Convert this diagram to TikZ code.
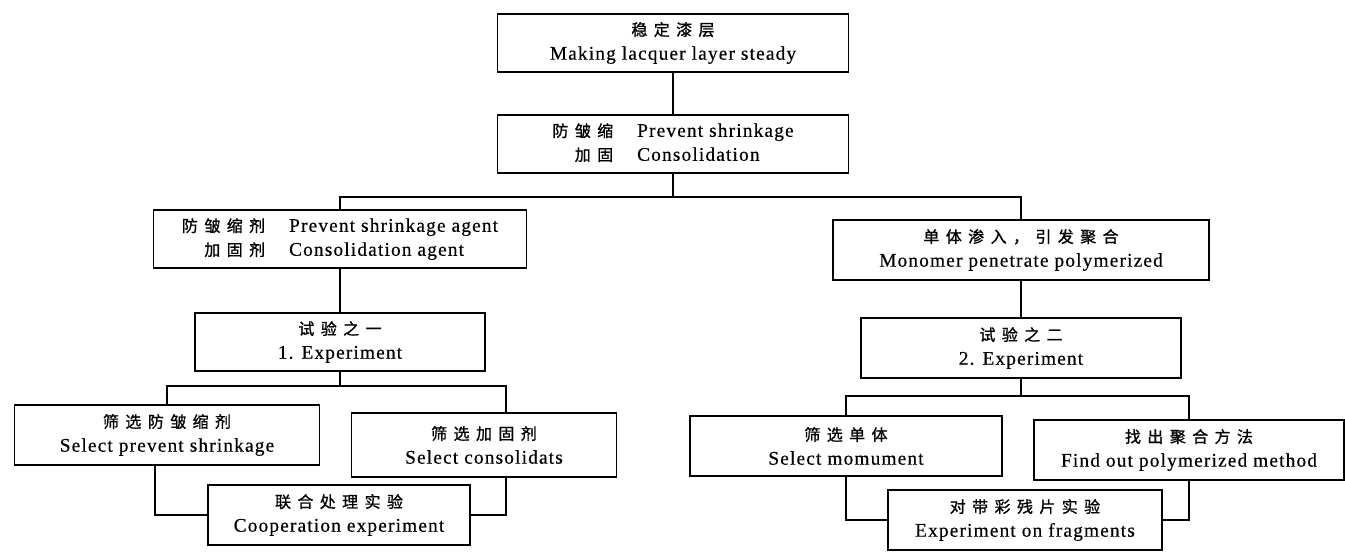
\documentclass[tikz,border=0pt]{standalone}
\usepackage{fontspec}
\setmainfont{Liberation Serif}[LetterSpace=6,FakeBold=0.4]
\newfontfamily\cjk{Noto Sans CJK SC}[LetterSpace=40,FakeBold=1]
\usetikzlibrary{calc}
\tikzset{
  box/.style={draw, fill=white, line width=1.4pt, inner sep=0pt, align=center,
    font=\fontsize{14.5}{18}\selectfont},
  wh/.style 2 args={minimum width=#1*0.75pt, minimum height=#2*0.75pt},
  link/.style={line width=1.4pt}
}
\newcommand{\cn}[1]{{\cjk\fontsize{12}{18}\selectfont #1}}

\begin{document}
\begin{tikzpicture}[x=0.75pt, y=-0.75pt]
		%%%%% START %%%%%
		\useasboundingbox (0,0) rectangle (1345,552);
		
		% top part
		\node[box, wh={351}{58}] (steady) at (673,43) {\cn{稳定漆层}\\Making lacquer layer steady};
		\node[box, wh={351}{58}] (prevent) at (673,144) {\begin{tabular}{@{}r@{\hspace{18pt}}l@{}}\cn{防皱缩} & Prevent shrinkage\\ \cn{加固} & Consolidation\end{tabular}};
		
		\node[box, wh={373}{58}] (agent) at (340,239) {\begin{tabular}{@{}r@{\hspace{18pt}}l@{}}\cn{防皱缩剂} & Prevent shrinkage agent\\ \cn{加固剂} & Consolidation agent\end{tabular}};
		\node[box, wh={376}{60}] (monomer) at (1021,250) {\cn{单体渗入，引发聚合}\\Monomer penetrate polymerized};
		
		% experiment 1
		\node[box, wh={290}{58}] (expone) at (340,342) {\cn{试验之一}\\1. Experiment};
		\node[box, wh={305}{60}] (selshrink) at (167,435) {\cn{筛选防皱缩剂}\\Select prevent shrinkage};
		\node[box, wh={265}{64}] (selcons) at (484,445) {\cn{筛选加固剂}\\Select consolidats};
		\node[box, wh={262}{60}] (coop) at (339,515) {\cn{联合处理实验}\\Cooperation experiment};
		
		% experiment 2
		\node[box, wh={320}{60}] (exptwo) at (1021,348) {\cn{试验之二}\\2. Experiment};
		\node[box, wh={312}{60}] (selmono) at (846,446) {\cn{筛选单体}\\Select momument};
		\node[box, wh={310}{60}] (findout) at (1189,450) {\cn{找出聚合方法}\\Find out polymerized method};
		\node[box, wh={274}{60}] (fragment) at (1025,520) {\cn{对带彩残片实验}\\Experiment on fragments};
		
		% connectors
		\coordinate (jtop) at ($(prevent.south)+(0,23)$);
		\coordinate (jone) at ($(expone.south)+(0,14)$);
		\coordinate (jtwo) at ($(exptwo.south)+(0,17)$);
		\coordinate (consin) at ($(selcons.north)+(22,0)$);
		\coordinate (consout) at ($(selcons.south)+(22,0)$);
		\coordinate (shrinkout) at ($(selshrink.south)+(-12,0)$);
		
		\draw[link] (steady) -- (prevent);
		\draw[link] (prevent.south) -- (jtop);
		\draw[link] (agent.north) |- (jtop) -| (monomer.north);
		\draw[link] (agent) -- (expone);
		\draw[link] (monomer) -- (exptwo);
		
		\draw[link] (expone.south) -- (jone);
		\draw[link] (selshrink.north) |- (jone) -| (consin);
		\draw[link] (shrinkout) |- (coop.west);
		\draw[link] (consout) |- (coop.east);
		
		\draw[link] (exptwo.south) -- (jtwo);
		\draw[link] (selmono.north) |- (jtwo) -| (findout.north);
		\draw[link] (selmono.south) |- (fragment.west);
		\draw[link] (findout.south) |- (fragment.east);
		
		%%%%% END %%%%%
\end{tikzpicture}
\end{document}
